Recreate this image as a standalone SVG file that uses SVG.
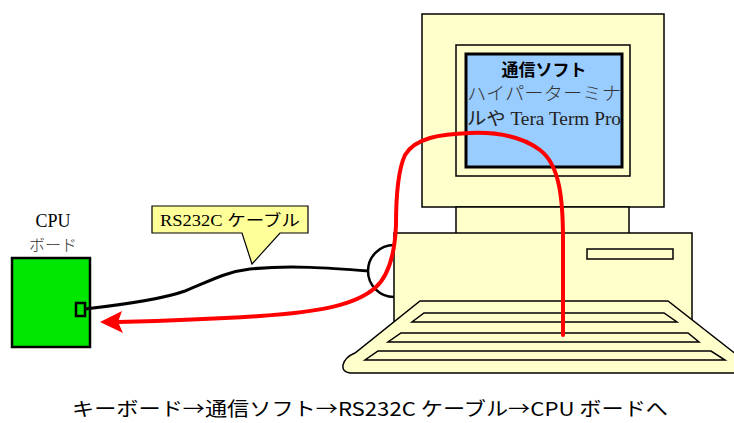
<svg xmlns="http://www.w3.org/2000/svg" width="734" height="423" viewBox="0 0 734 423">
  <defs>
    <style>
      .case { fill: #ffffcc; stroke: #000; stroke-width: 1.5; }
      .serif { font-family: "Liberation Serif", "DejaVu Serif", "Noto Sans CJK JP", serif; }
      .gothic { font-family: "Noto Sans CJK JP", "Liberation Sans", sans-serif; }
      .cable { fill: none; stroke: #000; stroke-width: 3; }
      .flow { fill: none; stroke: #ff0000; stroke-width: 4; stroke-linecap: round; }
    </style>
  </defs>
  <rect width="734" height="423" fill="#fff"/>

  <!-- personal computer -->
  <g id="pc">
    <rect class="case" x="422" y="14" width="242" height="193"/>
    <rect class="case" x="456" y="45" width="174" height="131"/>
    <rect x="466" y="54" width="156" height="113" fill="#99ccff" stroke="#000" stroke-width="3"/>
    <rect class="case" x="456" y="207" width="173" height="27"/>
    <rect class="case" x="394" y="233" width="298" height="90"/>
    <rect class="case" x="587" y="249" width="86" height="10"/>
    <!-- serial port connector -->
    <path d="M394,245 A26,26 0 0 0 394,297" fill="none" stroke="#000" stroke-width="2.5"/>
    <!-- keyboard -->
    <path class="case" d="M420,301 L668,301 L760,373 L350,373 Q342,372 343,365 Q345,357 355,353 Z"/>
    <path class="case" d="M424,313 L664,313 L677,322 L412,322 Z"/>
    <path class="case" d="M401,333 L688,333 L699,342 L388,342 Z"/>
    <path class="case" d="M378,351 L711,351 L725,360 L365,360 Z"/>
    <text class="gothic" x="544" y="76" font-size="17" font-weight="bold" text-anchor="middle">通信ソフト</text>
    <text class="serif" x="467" y="100" font-size="18" font-weight="300" fill="#333" textLength="154" lengthAdjust="spacingAndGlyphs">ハイパーターミナ</text>
    <text class="serif" x="467" y="125" font-size="18" fill="#222" textLength="154" lengthAdjust="spacingAndGlyphs">ルや Tera Term Pro</text>
  </g>

  <!-- CPU board -->
  <g id="cpu-board">
    <rect x="12" y="258" width="78" height="89" fill="#00e600" stroke="#000" stroke-width="2.5"/>
    <rect x="76" y="303" width="9" height="13" fill="#00e600" stroke="#000" stroke-width="2.5"/>
    <text class="serif" x="53" y="227" font-size="18" text-anchor="middle">CPU</text>
    <text class="serif" x="53" y="251" font-size="16" font-weight="300" fill="#333" text-anchor="middle">ボード</text>
  </g>

  <!-- cable callout -->
  <g id="cable-label">
    <path d="M152,206 H308 V233 H280 L252,264 L242,233 H152 Z" fill="#ffff99" stroke="#000" stroke-width="1.2"/>
    <text class="serif" x="160" y="226" font-size="16" textLength="140" lengthAdjust="spacingAndGlyphs">RS232C ケーブル</text>
  </g>

  <!-- connectors -->
  <g id="connectors">
    <path class="cable" d="M85,309 C120,305 160,300 185,291 C210,281 225,272 250,269 C290,265 330,268 369,271"/>
    <path class="flow" d="M563,335 L563,240 C563,200 560,165 540,150 C520,135 495,132 470,133 C440,134 415,138 405,155 C398,170 396,200 396,225 C395,250 390,275 375,288 C355,305 320,312 260,316 C200,320 160,321 118,322"/>
    <polygon points="100,322 122,311 118,322 123,333" fill="#ff0000"/>
  </g>

  <text class="gothic" x="72" y="416" font-size="19" textLength="596" lengthAdjust="spacingAndGlyphs">キーボード→通信ソフト→RS232C ケーブル→CPU ボードへ</text>
</svg>
